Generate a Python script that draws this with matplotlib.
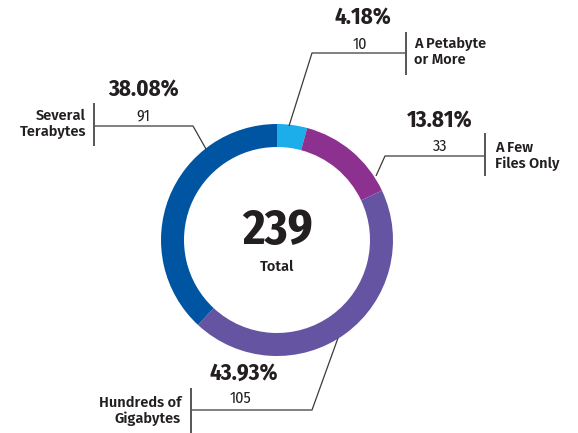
import matplotlib
matplotlib.use("Agg")
import matplotlib.pyplot as plt

labels = ["A Petabyte\nor More", "A Few\nFiles Only", "Hundreds of\nGigabytes", "Several\nTerabytes"]
counts = [10, 33, 105, 91]
colors = ["#1CAEEB", "#8D3190", "#6454A2", "#0055A3"]

total = sum(counts)
pcts = ["%.2f%%" % (100.0 * c / total) for c in counts]

W, H = 578, 433
fig = plt.figure(figsize=(W / 100, H / 100), dpi=100)
ax = fig.add_axes([0, 0, 1, 1])

cx, cy, r = 277, 240, 116
# y axis is inverted, so clockwise from the top needs counterclock=True, start -90
ax.pie(counts, colors=colors, center=(cx, cy), radius=r, startangle=-90,
       counterclock=True, frame=True,
       wedgeprops=dict(width=23, linewidth=0))
ax.set_xlim(0, W)
ax.set_ylim(H, 0)   # pixel coords, y down
ax.set_aspect("equal")
ax.axis("off")

cond = ["Fira Sans Condensed", "Roboto Condensed", "DejaVu Sans"]
bold = ["Fira Sans", "Open Sans", "DejaVu Sans"]
dark = "#231F20"

ax.text(cx, 231, str(total), ha="center", va="center", fontsize=35,
        fontweight=700, family=cond, color=dark)
ax.text(cx, 267, "Total", ha="center", va="center", fontsize=10.5,
        fontweight=600, family=bold, color=dark)

# leader lines: path points, bar x and y range, text spots
leaders = [
    dict(path=[(289, 126), (312, 53), (406, 53)], bar=(406, 32, 75),
         num=(360, 44), pct=(363, 18), lab=(414, 52, "left")),
    dict(path=[(376, 176), (385, 156), (485, 156)], bar=(485, 133, 176),
         num=(440, 146), pct=(440, 121), lab=(495, 156, "left")),
    dict(path=[(338, 338), (312, 410), (191, 410)], bar=(191, 388, 433),
         num=(240, 398), pct=(244, 373), lab=(181, 411, "right")),
    dict(path=[(206, 149), (193, 126), (94, 126)], bar=(94, 103, 146),
         num=(143, 116), pct=(143, 90), lab=(86, 124, "right")),
]

for i, ld in enumerate(leaders):
    xs = [p[0] for p in ld["path"]]
    ys = [p[1] for p in ld["path"]]
    ax.plot(xs, ys, color="#3A3A3A", lw=0.9, solid_capstyle="butt")
    bx, by0, by1 = ld["bar"]
    ax.plot([bx, bx], [by0, by1], color="#555555", lw=1.4, solid_capstyle="butt")
    ax.text(ld["num"][0], ld["num"][1], str(counts[i]), ha="center", va="center",
            fontsize=11.5, fontweight=400, family=cond, color=dark)
    ax.text(ld["pct"][0], ld["pct"][1], pcts[i], ha="center", va="center",
            fontsize=16.5, fontweight=700, family=cond, color=dark)
    lx, ly, ha = ld["lab"]
    ax.text(lx, ly, labels[i], ha=ha, va="center", fontsize=10.5,
            fontweight=600, family=bold, color=dark, linespacing=1.1,
            multialignment=ha)

fig.savefig("out.png", dpi=100, facecolor="white")
